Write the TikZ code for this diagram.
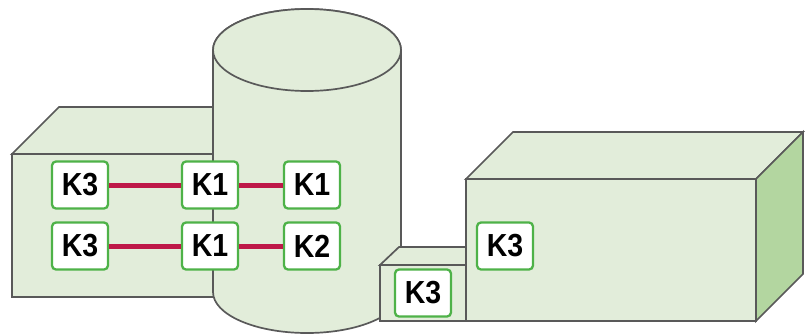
\documentclass[tikz,border=0pt]{standalone}
\usepackage{fontspec}
\usepackage{graphicx}
\setmainfont{Liberation Sans}
\definecolor{facefill}{RGB}{226,237,218}
\definecolor{sidefill}{RGB}{179,214,160}
\definecolor{edgegray}{RGB}{89,89,89}
\definecolor{kgreen}{RGB}{78,178,72}
\definecolor{linkred}{RGB}{190,24,72}
\newcommand{\ktext}[1]{\scalebox{1}[1.12]{#1}}
\begin{document}
\begin{tikzpicture}[x=1pt,y=-1pt,
  solid3d/.style={fill=facefill,draw=edgegray,line width=1.7pt,line join=miter},
  kbox/.style={draw=kgreen,fill=white,line width=2.3pt,rounded corners=4pt,
    minimum width=56pt,minimum height=47pt,inner sep=0pt,
    font=\fontsize{28.5}{30}\selectfont\bfseries},
  link/.style={draw=linkred,line width=5pt}]
\useasboundingbox (0,0) rectangle (811,333);
% left box
\draw[solid3d] (12,154) -- (59,107) -- (300,107) -- (260,154) -- cycle;
\draw[solid3d] (12,154) rectangle (260,297);
% cylinder
\draw[solid3d] (213,50) -- (213,292) arc[start angle=180,end angle=360,x radius=94pt,y radius=41pt]
  -- (401,50) arc[start angle=0,end angle=180,x radius=94pt,y radius=41pt] -- cycle;
\draw[solid3d] (307,50) ellipse[x radius=94pt,y radius=41pt];
% small box
\draw[solid3d] (380,265) -- (399,247) -- (485,247) -- (466,265) -- cycle;
\draw[solid3d] (380,265) rectangle (466,321);
% big box
\draw[solid3d] (466,179) -- (513,132) -- (803,132) -- (756,179) -- cycle;
\draw[solid3d,fill=sidefill] (756,179) -- (803,132) -- (803,274) -- (756,321) -- cycle;
\draw[solid3d] (466,179) rectangle (756,321);
% nodes
\node[kbox] (a1) at (80,185) {\ktext{K3}};
\node[kbox] (b1) at (210,185) {\ktext{K1}};
\node[kbox] (c1) at (312,185) {\ktext{K1}};
\node[kbox] (a2) at (80,246) {\ktext{K3}};
\node[kbox] (b2) at (210,246) {\ktext{K1}};
\node[kbox] (c2) at (312,246) {\ktext{K2}};
\node[kbox] (d) at (505,246) {\ktext{K3}};
\node[kbox] (e) at (423,293) {\ktext{K3}};
% links
\draw[link] (a1.east) -- (b1.west);
\draw[link] (b1.east) -- (c1.west);
\draw[link] (a2.east) -- (b2.west);
\draw[link] (b2.east) -- (c2.west);
\end{tikzpicture}
\end{document}
